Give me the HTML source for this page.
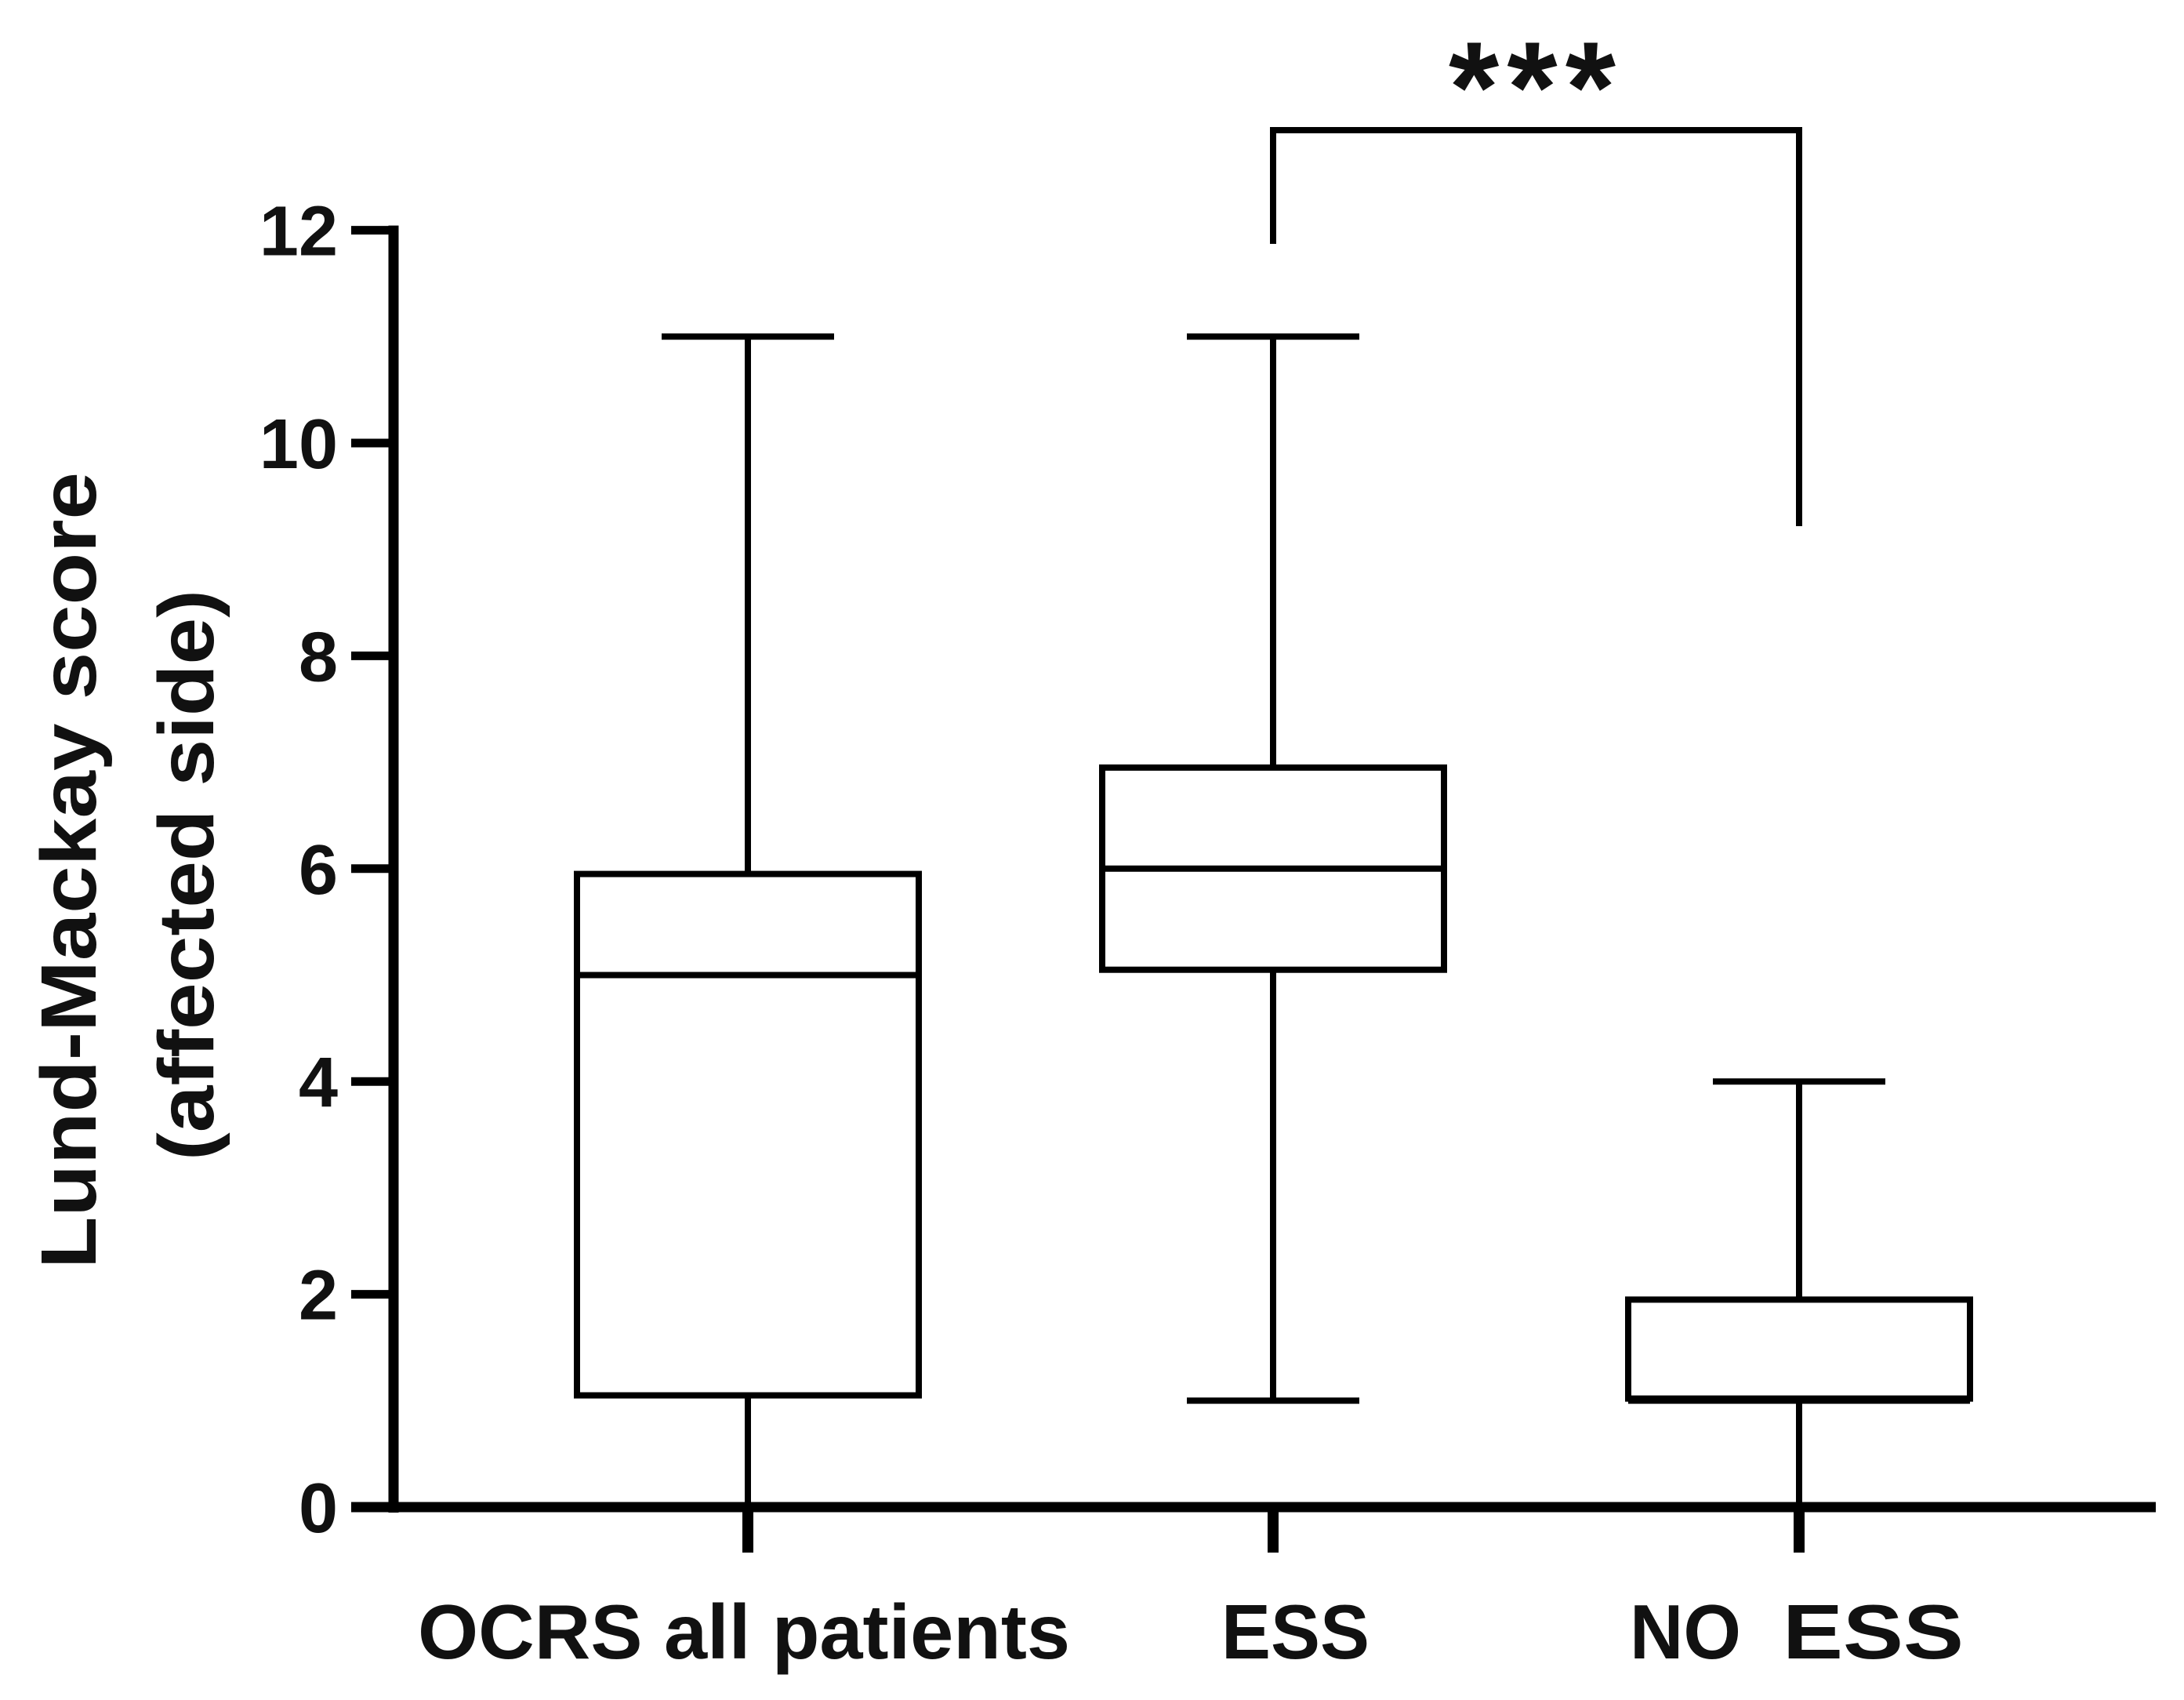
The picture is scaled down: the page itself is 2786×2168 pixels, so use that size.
<!DOCTYPE html>
<html><head><meta charset="utf-8"><style>html,body{margin:0;padding:0;background:#fff}svg{display:block}</style></head>
<body>
<svg id="chart" width="2786" height="2168" viewBox="0 0 2786 2168" xmlns="http://www.w3.org/2000/svg" font-family="'Liberation Sans', sans-serif" font-weight="bold">
<rect width="2786" height="2168" fill="#fff"/>
</svg>
<script>
const categories = ["OCRS all patients", "ESS", "NO ESS"];
const whiskerLow = [0, 1, 0];
const q1 = [1.05, 5.05, 1.02];
const medians = [5, 6, 1];
const q3 = [5.95, 6.95, 1.95];
const whiskerHigh = [11, 11, 4];
const yTicks = [0, 2, 4, 6, 8, 10, 12];
const sigLabel = "***";

const svg = document.getElementById('chart');
const NS = 'http://www.w3.org/2000/svg';
const y = v => 1922 - v * 135.7;
const xCenters = [954, 1624, 2295];
const x = i => xCenters[i];
function el(tag, attrs, parent) {
  const e = document.createElementNS(NS, tag);
  for (const k in attrs) e.setAttribute(k, attrs[k]);
  (parent || svg).appendChild(e);
  return e;
}
const yAxis = el('line', {x1: 502, y1: y(12) - 6, x2: 502, y2: y(0) + 7, stroke: '#000', 'stroke-width': 13});


const xAxis = el('line', {x1: 448, y1: y(0), x2: 2750, y2: y(0), stroke: '#000', 'stroke-width': 13});


yTicks.forEach(t => {
  const tk = el('line', {x1: 448, y1: y(t), x2: 502, y2: y(t), stroke: '#000', 'stroke-width': 11});
  
  
  const lb = el('text', {x: 431, y: y(t) + 32, 'text-anchor': 'end', 'font-size': 90, fill: '#111'});
  lb.textContent = t;
  
  
});
const t1 = el('text', {x: 0, y: 0, transform: 'translate(122,1110) rotate(-90)', 'text-anchor': 'middle', 'font-size': 100, textLength: 1016, lengthAdjust: 'spacingAndGlyphs', fill: '#111'});
t1.textContent = 'Lund-Mackay score';


const t2 = el('text', {x: 0, y: 0, transform: 'translate(272,1116) rotate(-90)', 'text-anchor': 'middle', 'font-size': 100, textLength: 728, lengthAdjust: 'spacingAndGlyphs', fill: '#111'});
t2.textContent = '(affected side)';


const halfBox = 218, halfCap = 110, sw = 8;
categories.forEach((c, i) => {
  const g = el('g', {});
  
  
  const cx = x(i);
  el('line', {x1: cx, y1: y(whiskerHigh[i]), x2: cx, y2: y(q3[i]), stroke: '#000', 'stroke-width': sw}, g);
  el('line', {x1: cx, y1: y(q1[i]), x2: cx, y2: y(whiskerLow[i]), stroke: '#000', 'stroke-width': sw}, g);
  el('line', {x1: cx - halfCap, y1: y(whiskerHigh[i]), x2: cx + halfCap, y2: y(whiskerHigh[i]), stroke: '#000', 'stroke-width': sw}, g);
  if (whiskerLow[i] > 0) el('line', {x1: cx - halfCap, y1: y(whiskerLow[i]), x2: cx + halfCap, y2: y(whiskerLow[i]), stroke: '#000', 'stroke-width': sw}, g);
  el('rect', {x: cx - halfBox, y: y(q3[i]), width: 2 * halfBox, height: y(q1[i]) - y(q3[i]), fill: '#fff', stroke: '#000', 'stroke-width': sw}, g);
  el('line', {x1: cx - halfBox, y1: y(medians[i]), x2: cx + halfBox, y2: y(medians[i]), stroke: '#000', 'stroke-width': sw}, g);
  const tk = el('line', {x1: cx, y1: y(0), x2: cx, y2: y(0) + 58, stroke: '#000', 'stroke-width': 14});
  
  
});
const labelSpecs = [[533, 832, "OCRS all patients"], [1558, 189, "ESS"], [2079, 142, "NO"], [2274, 231, "ESS"]];
labelSpecs.forEach(s => {
  const lb = el('text', {x: s[0], y: 2115, 'font-size': 98, textLength: s[1], lengthAdjust: 'spacingAndGlyphs', fill: '#111'});
  lb.textContent = s[2];
  
  
});
const br = el('polyline', {points: `${x(1)},311 ${x(1)},166 ${x(2)},166 ${x(2)},671`, fill: 'none', stroke: '#000', 'stroke-width': 8});


const st = el('text', {x: 1848, y: 168, 'font-size': 165, textLength: 213, lengthAdjust: 'spacing', fill: '#111'});
st.textContent = sigLabel;


</script>
</body></html>
